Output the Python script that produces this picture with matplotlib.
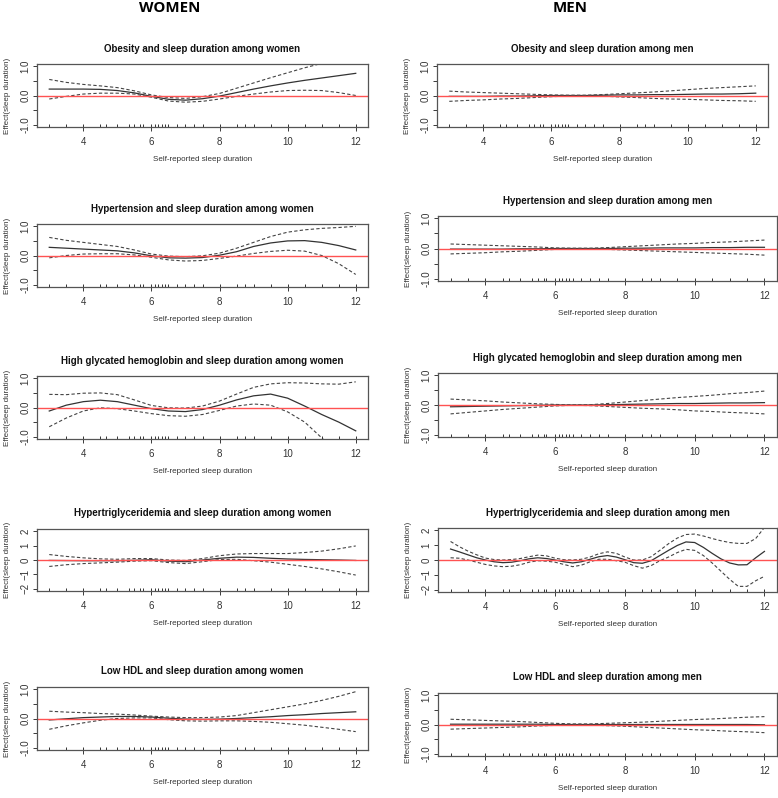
import numpy as np
import matplotlib
matplotlib.use("Agg")
import matplotlib.pyplot as plt

plt.rcParams["font.family"] = ["Liberation Sans", "DejaVu Sans"]

# sample grid of the smooth curves
x_half = [3, 3.5, 4, 4.5, 5, 5.5, 6, 6.5, 7, 7.5, 8, 8.5, 9, 9.5, 10, 10.5, 11, 11.5, 12]
x_quarter = [3, 3.25, 3.5, 3.75, 4, 4.25, 4.5, 4.75, 5, 5.25, 5.5, 5.75, 6, 6.25, 6.5, 6.75,
             7, 7.25, 7.5, 7.75, 8, 8.25, 8.5, 8.75, 9, 9.25, 9.5, 9.75, 10, 10.25, 10.5,
             10.75, 11, 11.25, 11.5, 11.75, 12]

# observed sleep durations (rug)
rug_x = [3, 3.5, 4, 4.5, 4.67, 5, 5.33, 5.5, 5.67, 5.75, 6, 6.1, 6.2, 6.3, 6.4, 6.5, 6.75,
         7, 7.25, 7.5, 8, 8.5, 8.75, 9, 9.5, 10, 10.5, 11, 11.5, 12]

# women
w_obes_fit = [0.22, 0.22, 0.22, 0.21, 0.17, 0.09, -0.03, -0.13, -0.16, -0.11, -0.02, 0.1, 0.22, 0.33, 0.43, 0.52, 0.6, 0.68, 0.76]
w_obes_up = [0.55, 0.45, 0.38, 0.33, 0.27, 0.16, 0.02, -0.07, -0.1, -0.04, 0.07, 0.25, 0.43, 0.61, 0.78, 0.95, 1.1, 1.27, 1.45]
w_obes_lo = [-0.12, -0.03, 0.05, 0.08, 0.08, 0.05, -0.06, -0.19, -0.23, -0.2, -0.12, -0.03, 0.05, 0.12, 0.17, 0.18, 0.17, 0.1, 0.0]

w_hyp_fit = [0.28, 0.25, 0.22, 0.19, 0.16, 0.09, -0.01, -0.08, -0.09, -0.07, 0.01, 0.13, 0.31, 0.43, 0.5, 0.51, 0.45, 0.34, 0.19]
w_hyp_up = [0.62, 0.52, 0.45, 0.38, 0.31, 0.19, 0.05, -0.02, -0.04, -0.01, 0.08, 0.25, 0.45, 0.65, 0.8, 0.88, 0.93, 0.96, 1.0]
w_hyp_lo = [-0.08, 0.0, 0.05, 0.06, 0.06, 0.02, -0.06, -0.15, -0.19, -0.17, -0.1, -0.02, 0.07, 0.14, 0.18, 0.15, 0.0, -0.28, -0.65]

w_hba_fit = [-0.12, 0.08, 0.2, 0.25, 0.2, 0.08, -0.04, -0.12, -0.14, -0.07, 0.08, 0.26, 0.4, 0.46, 0.32, 0.05, -0.24, -0.5, -0.8]
w_hba_up = [0.45, 0.44, 0.49, 0.5, 0.44, 0.26, 0.07, -0.01, -0.02, 0.05, 0.22, 0.46, 0.69, 0.81, 0.85, 0.84, 0.81, 0.8, 0.88]
w_hba_lo = [-0.66, -0.36, -0.12, -0.01, -0.04, -0.12, -0.21, -0.28, -0.3, -0.24, -0.1, 0.05, 0.12, 0.08, -0.15, -0.5, -1.04, -1.6, -2.2]

w_tg_fit = [-0.03, -0.04, -0.05, -0.05, -0.05, -0.02, 0.02, -0.08, -0.12, 0.0, 0.12, 0.2, 0.18, 0.12, 0.07, 0.04, 0.02, 0.0, -0.03]
w_tg_up = [0.38, 0.25, 0.15, 0.08, 0.05, 0.1, 0.1, 0.0, -0.03, 0.1, 0.3, 0.42, 0.45, 0.45, 0.45, 0.52, 0.62, 0.78, 0.98]
w_tg_lo = [-0.45, -0.33, -0.25, -0.2, -0.15, -0.08, -0.05, -0.18, -0.25, -0.12, 0.03, 0.05, -0.05, -0.15, -0.3, -0.45, -0.62, -0.82, -1.05]

w_hdl_fit = [-0.05, -0.01, 0.03, 0.05, 0.07, 0.07, 0.05, 0.01, -0.02, -0.03, -0.02, 0.0, 0.03, 0.06, 0.1, 0.13, 0.17, 0.2, 0.23]
w_hdl_up = [0.25, 0.22, 0.2, 0.17, 0.15, 0.12, 0.08, 0.05, 0.03, 0.03, 0.05, 0.1, 0.2, 0.3, 0.4, 0.5, 0.62, 0.76, 0.92]
w_hdl_lo = [-0.37, -0.25, -0.15, -0.06, 0.0, 0.02, 0.02, -0.04, -0.08, -0.09, -0.08, -0.08, -0.1, -0.13, -0.18, -0.23, -0.3, -0.37, -0.45]

# men
m_obes_fit = [-0.03, -0.03, -0.03, -0.02, -0.02, -0.01, 0.0, 0.0, 0.0, 0.01, 0.02, 0.02, 0.03, 0.03, 0.04, 0.05, 0.05, 0.06, 0.08]
m_obes_up = [0.15, 0.12, 0.1, 0.08, 0.06, 0.04, 0.02, 0.01, 0.01, 0.03, 0.06, 0.09, 0.12, 0.16, 0.2, 0.24, 0.27, 0.3, 0.33]
m_obes_lo = [-0.2, -0.17, -0.15, -0.12, -0.1, -0.07, -0.04, -0.02, -0.01, -0.02, -0.05, -0.07, -0.1, -0.12, -0.13, -0.15, -0.17, -0.18, -0.2]

m_hyp_fit = [-0.02, -0.02, -0.02, -0.02, -0.01, -0.01, 0.0, 0.0, 0.0, 0.0, 0.01, 0.01, 0.02, 0.02, 0.02, 0.03, 0.03, 0.04, 0.04]
m_hyp_up = [0.15, 0.13, 0.11, 0.09, 0.07, 0.05, 0.02, 0.01, 0.01, 0.03, 0.06, 0.09, 0.12, 0.15, 0.17, 0.2, 0.22, 0.25, 0.28]
m_hyp_lo = [-0.18, -0.16, -0.14, -0.11, -0.09, -0.06, -0.03, -0.01, -0.01, -0.03, -0.05, -0.07, -0.09, -0.11, -0.13, -0.15, -0.17, -0.19, -0.22]

m_hba_fit = [-0.06, -0.05, -0.04, -0.03, -0.02, -0.01, 0.0, 0.0, 0.0, 0.01, 0.02, 0.03, 0.04, 0.05, 0.05, 0.06, 0.07, 0.07, 0.08]
m_hba_up = [0.2, 0.17, 0.14, 0.1, 0.07, 0.04, 0.02, 0.0, 0.01, 0.05, 0.1, 0.15, 0.2, 0.25, 0.29, 0.33, 0.38, 0.42, 0.47]
m_hba_lo = [-0.3, -0.25, -0.2, -0.15, -0.11, -0.07, -0.03, -0.01, -0.02, -0.05, -0.08, -0.11, -0.13, -0.16, -0.2, -0.22, -0.25, -0.27, -0.3]

m_tg_fit = [0.74, 0.55, 0.35, 0.15, 0.0, -0.12, -0.18, -0.15, -0.05, 0.08, 0.15, 0.1, 0.0, -0.12, -0.2, -0.12,
            0.05, 0.22, 0.3, 0.2, 0.02, -0.18, -0.22, -0.05, 0.3, 0.65, 0.98, 1.22, 1.18, 0.85, 0.45,
            0.08, -0.2, -0.33, -0.32, 0.15, 0.58]
m_tg_up = [1.25, 0.9, 0.6, 0.35, 0.13, 0.03, 0.0, 0.03, 0.1, 0.22, 0.33, 0.28, 0.12, 0.02, 0.0, 0.05,
           0.2, 0.42, 0.55, 0.45, 0.2, 0.0, 0.0, 0.22, 0.65, 1.1, 1.48, 1.72, 1.75, 1.62, 1.45,
           1.3, 1.18, 1.12, 1.12, 1.45, 2.2]
m_tg_lo = [0.15, 0.12, 0.0, -0.15, -0.3, -0.4, -0.45, -0.42, -0.32, -0.15, -0.05, -0.08, -0.15, -0.3, -0.45, -0.35,
           -0.12, 0.05, 0.05, -0.05, -0.15, -0.38, -0.55, -0.38, -0.05, 0.2, 0.5, 0.72, 0.65, 0.3, -0.2,
           -0.75, -1.3, -1.78, -1.78, -1.4, -1.1]

m_hdl_fit = [0.01, 0.01, 0.01, 0.01, 0.01, 0.01, 0.0, 0.0, 0.0, 0.0, 0.0, 0.0, 0.0, 0.0, 0.0, 0.0, 0.0, 0.0, -0.01]
m_hdl_up = [0.18, 0.16, 0.14, 0.12, 0.1, 0.07, 0.04, 0.02, 0.02, 0.04, 0.06, 0.08, 0.11, 0.14, 0.17, 0.19, 0.22, 0.25, 0.27]
m_hdl_lo = [-0.16, -0.14, -0.12, -0.1, -0.08, -0.05, -0.03, -0.01, -0.02, -0.04, -0.06, -0.09, -0.12, -0.15, -0.18, -0.2, -0.23, -0.25, -0.28]

titles_w = ["Obesity and sleep duration among women",
            "Hypertension and sleep duration among women",
            "High glycated hemoglobin and sleep duration among women",
            "Hypertriglyceridemia and sleep duration among women",
            "Low HDL and sleep duration among women"]
titles_m = ["Obesity and sleep duration among men",
            "Hypertension and sleep duration among men",
            "High glycated hemoglobin and sleep duration among men",
            "Hypertriglyceridemia and sleep duration among men",
            "Low HDL and sleep duration among men"]

W, H = 778, 798
fig = plt.figure(figsize=(W / 100, H / 100), dpi=100)


def rect(l, t, r, b):
    return [l / W, 1 - b / H, (r - l) / W, (b - t) / H]


# pixel boxes of each panel (left, top, right, bottom)
boxes_w = [(37, 64, 368, 127), (37, 224, 368, 287), (37, 376, 368, 439),
           (37, 529, 368, 591), (37, 687, 368, 750)]
boxes_m = [(437, 64, 768, 127), (438, 216, 777, 281), (438, 373, 777, 437),
           (438, 528, 777, 592), (438, 693, 777, 756)]

panels_w = [(x_half, w_obes_fit, w_obes_up, w_obes_lo, 1),
            (x_half, w_hyp_fit, w_hyp_up, w_hyp_lo, 1),
            (x_half, w_hba_fit, w_hba_up, w_hba_lo, 1),
            (x_half, w_tg_fit, w_tg_up, w_tg_lo, 2),
            (x_half, w_hdl_fit, w_hdl_up, w_hdl_lo, 1)]
panels_m = [(x_half, m_obes_fit, m_obes_up, m_obes_lo, 1),
            (x_half, m_hyp_fit, m_hyp_up, m_hyp_lo, 1),
            (x_half, m_hba_fit, m_hba_up, m_hba_lo, 1),
            (x_quarter, m_tg_fit, m_tg_up, m_tg_lo, 2),
            (x_half, m_hdl_fit, m_hdl_up, m_hdl_lo, 1)]

gray = "#3a3a3a"


def draw(box, panel, title):
    xs, fit, up, lo, lim = panel
    ax = fig.add_axes(rect(*box))
    ax.plot(xs, fit, color="#333333", lw=0.9)
    ax.plot(xs, up, color="#444444", lw=0.8, ls=(0, (3, 2)))
    ax.plot(xs, lo, color="#444444", lw=0.8, ls=(0, (3, 2)))
    ax.axhline(0, color="#ff5252", lw=1.0)
    ax.vlines(rug_x, 0, 0.05, transform=ax.get_xaxis_transform(), color="#333333", lw=0.7)
    ax.set_xlim(2.64, 12.36)
    ax.set_ylim(-lim * 1.08, lim * 1.08)
    ax.set_xticks([4, 6, 8, 10, 12])
    if lim == 1:
        ax.set_yticks([-1, -0.5, 0, 0.5, 1])
        ax.set_yticklabels(["-1.0", "", "0.0", "", "1.0"])
    else:
        ax.set_yticks([-2, -1, 0, 1, 2])
    ax.tick_params(axis="both", direction="out", length=3, width=0.7, color=gray,
                   labelsize=7, labelcolor="#333333")
    ax.tick_params(axis="x", pad=4)
    ax.tick_params(axis="y", pad=1.5, labelrotation=90)
    for t in ax.get_yticklabels():
        t.set_va("center")
    for s in ax.spines.values():
        s.set_color("#555555")
        s.set_linewidth(0.9)
    ax.set_title(title, fontsize=7, fontweight="bold", color="#111111", pad=9)
    ax.set_xlabel("Self-reported sleep duration", fontsize=5.8, color="#333333", labelpad=7)
    ax.set_ylabel("Effect(sleep duration)", fontsize=5.8, color="#333333", labelpad=7)


for b, p, t in zip(boxes_w, panels_w, titles_w):
    draw(b, p, t)
for b, p, t in zip(boxes_m, panels_m, titles_m):
    draw(b, p, t)

fig.text(170 / W, 1 - 8 / H, "WOMEN", fontsize=10.8, fontweight="bold", ha="center", va="center",
         family=["Open Sans", "DejaVu Sans"])
fig.text(570 / W, 1 - 8 / H, "MEN", fontsize=10.8, fontweight="bold", ha="center", va="center",
         family=["Open Sans", "DejaVu Sans"])

fig.savefig("out.png", dpi=100)
